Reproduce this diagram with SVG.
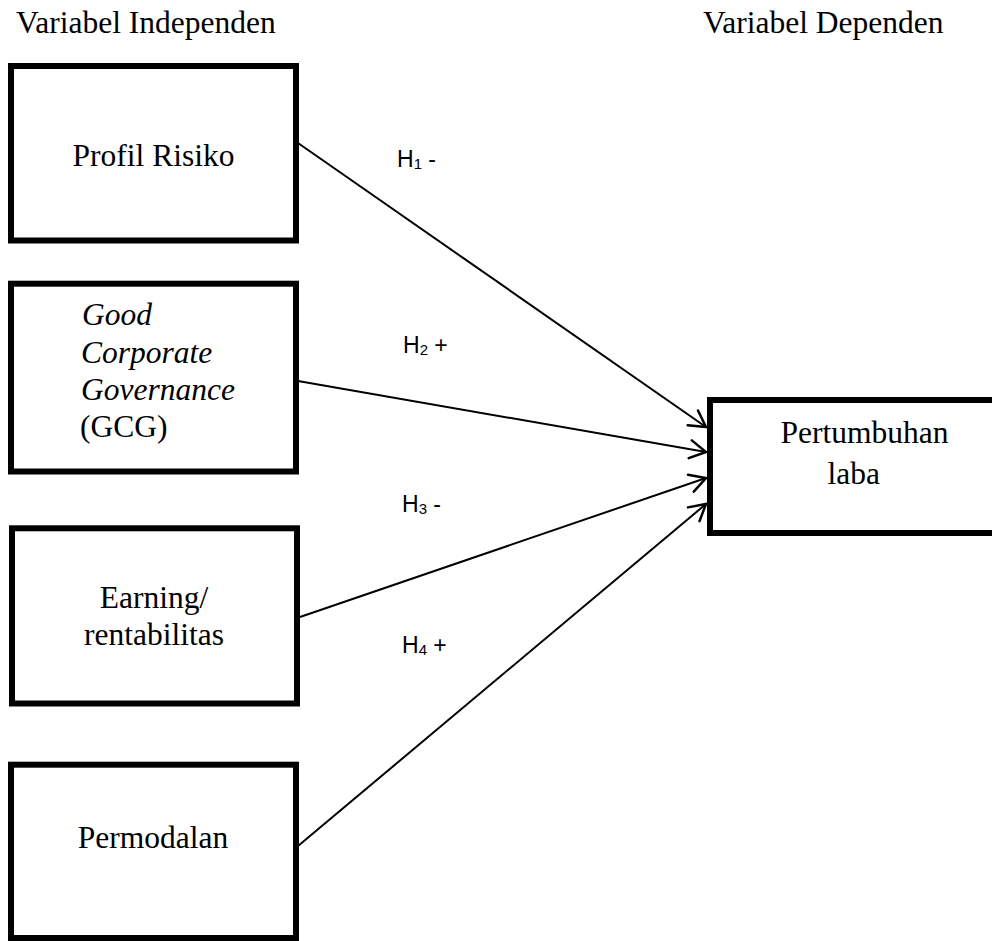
<svg xmlns="http://www.w3.org/2000/svg" width="992" height="941" viewBox="0 0 992 941">
<style>
.box{fill:#fff;stroke:#000;stroke-width:6}
.t{font-family:"Liberation Serif","Times New Roman",serif;font-size:31.5px;fill:#000}
.c{text-anchor:middle}
.i{font-style:italic}
.h{font-family:"Liberation Sans",Arial,sans-serif;font-size:23px;fill:#000}
.sub{font-size:15px}
.ln{stroke:#000;stroke-width:2;fill:none}
</style>
<defs>
<marker id="arr" markerUnits="userSpaceOnUse" markerWidth="24" markerHeight="24" viewBox="-20 -12 24 24" refX="0" refY="0" orient="auto">
<path d="M -16 -9 L 0 0 L -16 9" fill="none" stroke="#000" stroke-width="2.5" stroke-linecap="round" stroke-linejoin="miter"/>
</marker>
</defs>
<rect width="992" height="941" fill="#fff"/>
<text class="t" x="16" y="33">Variabel Independen</text>
<text class="t" x="703" y="33">Variabel Dependen</text>
<g id="profil-risiko">
<rect class="box" x="11" y="66" width="285" height="174.5"/>
<text class="t c" x="153.5" y="166">Profil Risiko</text>
</g>
<g id="gcg">
<rect class="box" x="11" y="283.7" width="285" height="187.8"/>
<text class="t i" x="82" y="325">Good</text>
<text class="t i" x="81" y="363">Corporate</text>
<text class="t i" x="81" y="400">Governance</text>
<text class="t" x="80" y="437">(GCG)</text>
</g>
<g id="earning">
<rect class="box" x="12" y="528.3" width="285" height="175.2"/>
<text class="t c" x="154" y="607.5">Earning/</text>
<text class="t c" x="154" y="645">rentabilitas</text>
</g>
<g id="permodalan">
<rect class="box" x="11" y="764.7" width="285" height="173.3"/>
<text class="t c" x="153" y="848">Permodalan</text>
</g>
<g id="pertumbuhan-laba">
<rect class="box" x="710" y="400" width="295" height="133"/>
<text class="t c" x="864.5" y="442.7">Pertumbuhan</text>
<text class="t c" x="853.7" y="484">laba</text>
</g>
<g id="connectors">
<line class="ln" x1="298" y1="143" x2="706" y2="427" marker-end="url(#arr)"/>
<line class="ln" x1="298" y1="381" x2="706" y2="452" marker-end="url(#arr)"/>
<line class="ln" x1="300" y1="617" x2="706" y2="478" marker-end="url(#arr)"/>
<line class="ln" x1="298" y1="846" x2="706" y2="504" marker-end="url(#arr)"/>
</g>
<g id="labels">
<text class="h" x="397" y="167">H<tspan class="sub" dy="2">1</tspan><tspan dy="-2"> -</tspan></text>
<text class="h" x="403" y="353">H<tspan class="sub" dy="2">2</tspan><tspan dy="-2"> +</tspan></text>
<text class="h" x="402" y="512">H<tspan class="sub" dy="2">3</tspan><tspan dy="-2"> -</tspan></text>
<text class="h" x="402" y="653">H<tspan class="sub" dy="2">4</tspan><tspan dy="-2"> +</tspan></text>
</g>
</svg>
